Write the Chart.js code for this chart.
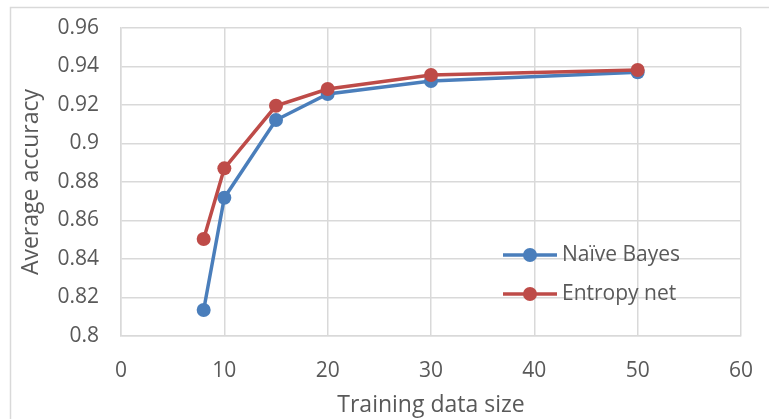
<!DOCTYPE html>
<html>
<head>
<meta charset="utf-8">
<title>Average accuracy vs training data size</title>
<script src="https://cdn.jsdelivr.net/npm/chart.js@4.4.1/dist/chart.umd.min.js"></script>
<style>
  html, body { margin: 0; padding: 0; background: #ffffff; }
  #wrap { position: relative; width: 769px; height: 419px; }
  canvas { display: block; }
</style>
</head>
<body>
<div id="wrap"><canvas id="chart" width="769" height="419"></canvas></div>
<script>
// Training data sizes and the average accuracy of each classifier
const trainingSizes = [8, 10, 15, 20, 30, 50];
const naiveBayes   = [0.8135, 0.8718, 0.9122, 0.9257, 0.9325, 0.937];
const entropyNet   = [0.8504, 0.8871, 0.9196, 0.9283, 0.9356, 0.9382];
const seriesNames  = ['Naïve Bayes', 'Entropy net'];

// Axis ticks
const xTicks = [0, 10, 20, 30, 40, 50, 60];
const yTicks = ['0.8', '0.82', '0.84', '0.86', '0.88', '0.9', '0.92', '0.94', '0.96'];

const BLUE = '#4a7ebb';
const RED = '#be4b48';
const GRID = '#d9d9d9';
const TEXT = '#595959';
const FONT = "'Open Sans', 'Noto Sans', sans-serif";

const toPoints = (ys) => trainingSizes.map((x, i) => ({ x, y: ys[i] }));

// Tick labels may overhang the plot edges without shrinking it
function noOverhang(scale) {
  scale.paddingLeft = 0;
  scale.paddingRight = 0;
  scale.paddingTop = 0;
  scale.paddingBottom = 0;
}

// Outer frame of the chart
const framePlugin = {
  id: 'frame',
  beforeDraw(chart) {
    const ctx = chart.ctx;
    ctx.save();
    ctx.fillStyle = '#ffffff';
    ctx.fillRect(0, 0, chart.width, chart.height);
    ctx.strokeStyle = GRID;
    ctx.lineWidth = 1.5;
    ctx.strokeRect(10.5, 7.5, chart.width + 20, chart.height + 20);
    ctx.restore();
  }
};

// Legend drawn inside the plot, lower right
const insideLegend = {
  id: 'insideLegend',
  afterDatasetsDraw(chart) {
    const ctx = chart.ctx;
    const area = chart.chartArea;
    const x0 = area.right - 238;
    const x1 = area.right - 184;
    const xm = (x0 + x1) / 2;
    const rows = [
      { name: seriesNames[0], color: BLUE, y: area.top + 227 },
      { name: seriesNames[1], color: RED, y: area.top + 266 }
    ];
    ctx.save();
    rows.forEach(r => {
      ctx.strokeStyle = r.color;
      ctx.lineWidth = 3.5;
      ctx.beginPath();
      ctx.moveTo(x0, r.y);
      ctx.lineTo(x1, r.y);
      ctx.stroke();
      ctx.fillStyle = r.color;
      ctx.beginPath();
      ctx.arc(xm, r.y, 7, 0, Math.PI * 2);
      ctx.fill();
      ctx.fillStyle = TEXT;
      ctx.font = `21px ${FONT}`;
      ctx.textAlign = 'left';
      ctx.textBaseline = 'middle';
      ctx.fillText(r.name, x1 + 5, r.y);
    });
    ctx.restore();
  }
};

new Chart(document.getElementById('chart'), {
  type: 'line',
  data: {
    datasets: [
      {
        label: seriesNames[0],
        data: toPoints(naiveBayes),
        borderColor: BLUE,
        backgroundColor: BLUE,
        borderWidth: 3.5,
        pointRadius: 7,
        pointBorderWidth: 0,
        pointBackgroundColor: BLUE,
        order: 2
      },
      {
        label: seriesNames[1],
        data: toPoints(entropyNet),
        borderColor: RED,
        backgroundColor: RED,
        borderWidth: 3.5,
        pointRadius: 7,
        pointBorderWidth: 0,
        pointBackgroundColor: RED,
        order: 1
      }
    ]
  },
  options: {
    responsive: false,
    animation: false,
    layout: { padding: { left: 0, top: 28, right: 28, bottom: 0 } },
    plugins: {
      legend: { display: false },
      tooltip: { enabled: false }
    },
    scales: {
      x: {
        type: 'linear',
        min: xTicks[0],
        max: xTicks[xTicks.length - 1],
        afterFit(scale) { scale.height = 83; noOverhang(scale); },
        afterBuildTicks(scale) { scale.ticks = xTicks.map(v => ({ value: v })); },
        ticks: {
          padding: 22,
          color: TEXT,
          font: { family: FONT, size: 21 },
          callback: (v) => String(v)
        },
        grid: { color: GRID, lineWidth: 1.5, drawTicks: false },
        border: { color: GRID, width: 1.5 },
        title: {
          display: true,
          text: 'Training data size',
          color: TEXT,
          font: { family: FONT, size: 23 },
          padding: { top: 2, bottom: 0 }
        }
      },
      y: {
        type: 'linear',
        min: 0.8,
        max: 0.96,
        afterFit(scale) { scale.width = 121; noOverhang(scale); },
        afterBuildTicks(scale) { scale.ticks = yTicks.map(t => ({ value: parseFloat(t) })); },
        ticks: {
          padding: 22,
          color: TEXT,
          font: { family: FONT, size: 21 },
          callback: (v, i) => yTicks[i]
        },
        grid: { color: GRID, lineWidth: 1.5, drawTicks: false },
        border: { color: GRID, width: 1.5 },
        title: {
          display: true,
          text: 'Average accuracy',
          color: TEXT,
          font: { family: FONT, size: 23 },
          padding: { top: 18, bottom: 0 }
        }
      }
    }
  },
  plugins: [framePlugin, insideLegend]
});
</script>
</body>
</html>
